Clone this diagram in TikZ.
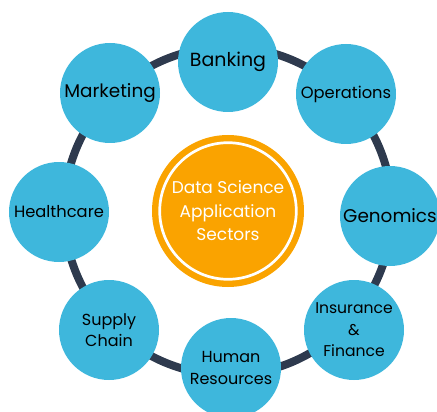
\documentclass[tikz,border=0pt]{standalone}
\usepackage{fontspec}
\setmainfont{Poppins}
\usetikzlibrary{positioning}
\definecolor{sectorblue}{RGB}{62,183,220}
\definecolor{hubor}{RGB}{250,163,0}
\definecolor{ringnavy}{RGB}{46,58,78}

\begin{document}
\begin{tikzpicture}
      [ x=1pt, y=-1pt,
        sector/.style={circle, fill=sectorblue, minimum size=100pt, inner sep=0pt,
          align=center, text=black, font=\fontsize{#1}{21.5}\selectfont},
        sector/.default=16,
        hub/.style={circle, fill=hubor, minimum size=152pt, inner sep=0pt,
          align=center, text=white, font=\fontsize{17}{23.5}\selectfont},
        ring/.style={draw=ringnavy, line width=8pt},
        innerring/.style={draw=white, line width=2.7pt}
      ]
      \useasboundingbox (0,0) rectangle (437,412);
      \clip (0,0) rectangle (437,412);
      \coordinate (mid) at (228,211);
      \draw[ring] (mid) circle[radius=164];

      \node[hub]    (hub)    at (mid)       {Data Science\\Application\\Sectors};
      \draw[innerring] (hub.center) circle[radius=68.3];

      \node[sector=19]   (bank)   at (228,62)    {Banking};
      \node[sector=16.3] (oper)   at (346,94)    {Operations};
      \node[sector=18.4] (geno)   at (390,216)   {Genomics};
      \node[sector=15.6] (insu)   at (354,330)   {Insurance\\\&\\Finance};
      \node[sector]      (human)  at (231,368)   {Human\\Resources};
      \node[sector]      (supply) at (109,330)   {Supply\\Chain};
      \node[sector=16.3] (health) at (59,212)    {Healthcare};
      \node[sector=18.4] (market) at (110,93)    {Marketing};
    \end{tikzpicture}
\end{document}
